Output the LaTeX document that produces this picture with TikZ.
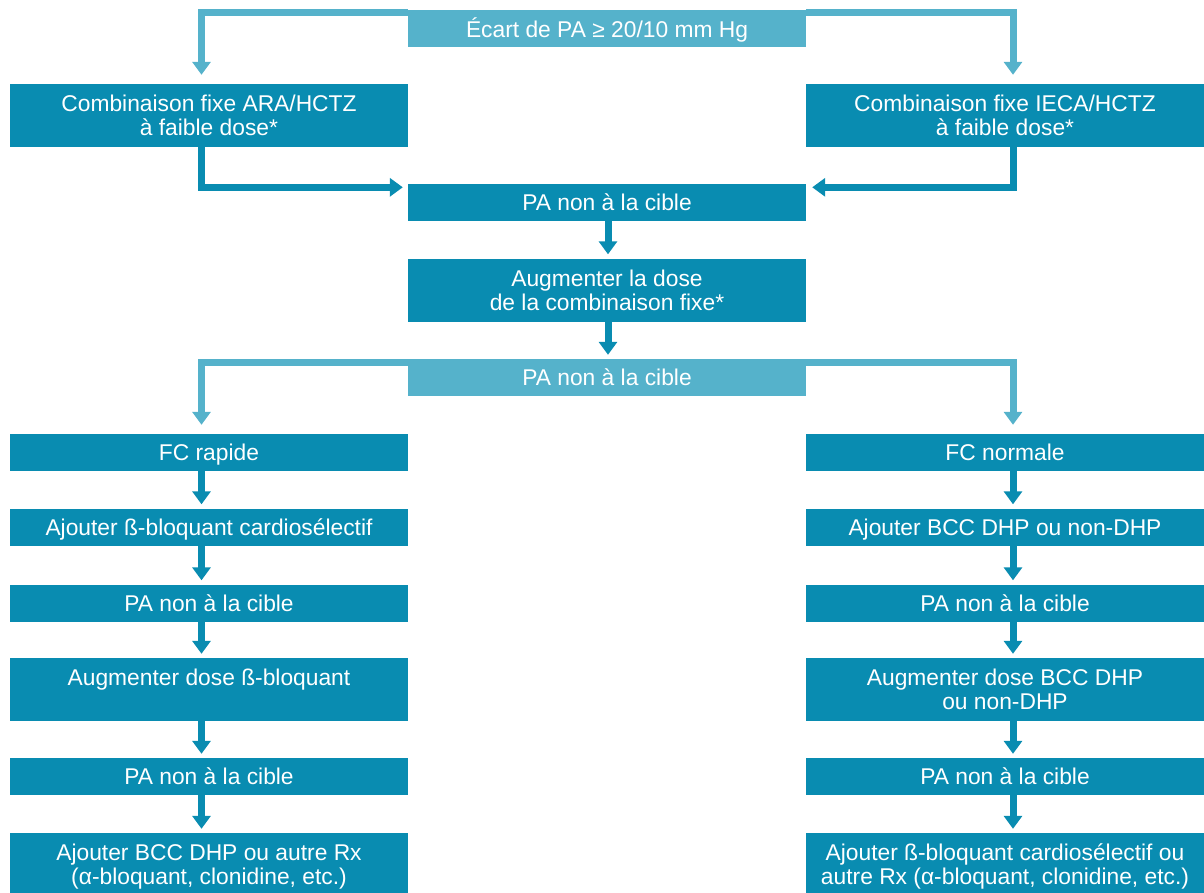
\documentclass[tikz,border=0pt]{standalone}
\usepackage{fontspec}
\setmainfont{Liberation Sans}
\usetikzlibrary{arrows.meta}
\definecolor{tealdark}{RGB}{9,140,177}
\definecolor{teallight}{RGB}{85,178,203}
\tikzset{
  box/.style={fill=tealdark, text=white, minimum width=398pt, minimum height=37pt,
    inner sep=0pt, align=center, text depth=0pt, font=\fontsize{22.8}{24}\selectfont},
  tallbox/.style={box, minimum height=63pt},
  lbox/.style={box, fill=teallight},
  arr/.style={draw=tealdark, line width=7pt, -{Triangle[width=18pt,length=13pt]}, shorten >=4pt},
  larr/.style={arr, draw=teallight, shorten >=9pt},
}
\begin{document}
\begin{tikzpicture}[x=1pt,y=-1pt]
\useasboundingbox (0,0) rectangle (1204,892);
\coordinate (lx) at (201.5,0);
\coordinate (mx) at (608,0);
\coordinate (rx) at (1013,0);
% top part
\node[lbox] (ecart) at (607,28) {Écart de PA ≥ 20/10 mm Hg};
\node[tallbox] (ara) at (209,115.5) {Combinaison fixe ARA/HCTZ\\à faible dose*};
\node[tallbox] (ieca) at (1005,115.5) {Combinaison fixe IECA/HCTZ\\à faible dose*};
\node[box] (pa1) at (607,202.5) {PA non à la cible};
\node[tallbox] (aug) at (607,290) {Augmenter la dose\\de la combinaison fixe*};
\node[lbox] (pa2) at (607,377.5) {PA non à la cible};
% left column
\node[box] (fcr) at (209,452.5) {FC rapide};
\node[box] (lbeta) at (209,527) {Ajouter ß-bloquant cardiosélectif};
\node[box] (lpa1) at (209,603) {PA non à la cible};
\node[tallbox] (laug) at (209,689.5) {Augmenter dose ß-bloquant\\\mbox{}};
\node[box] (lpa2) at (209,776.5) {PA non à la cible};
\node[tallbox] (lend) at (209,864.5) {Ajouter BCC DHP ou autre Rx\\(α-bloquant, clonidine, etc.)};
% right column
\node[box] (fcn) at (1005,452.5) {FC normale};
\node[box] (rbcc) at (1005,527) {Ajouter BCC DHP ou non-DHP};
\node[box] (rpa1) at (1005,603) {PA non à la cible};
\node[tallbox] (raug) at (1005,689.5) {Augmenter dose BCC DHP\\ou non-DHP};
\node[box] (rpa2) at (1005,776.5) {PA non à la cible};
\node[tallbox] (rend) at (1005,864.5) {Ajouter ß-bloquant cardiosélectif ou\\autre Rx (α-bloquant, clonidine, etc.)};
% connectors
\draw[larr] ([yshift=-3pt]ecart.north west) -| (ara.north -| lx);
\draw[larr] ([yshift=-3pt]ecart.north east) -| (ieca.north -| rx);
\draw[arr, shorten >=5pt] (ara.south -| lx) |- ([yshift=-3.5pt]pa1.north west);
\draw[arr, shorten >=6pt] (ieca.south -| rx) |- ([yshift=-3.5pt]pa1.north east);
\draw[arr] (pa1.south -| mx) -- (aug.north -| mx);
\draw[arr] (aug.south -| mx) -- (pa2.north -| mx);
\draw[larr] ([yshift=-4pt]pa2.north west) -| (fcr.north -| lx);
\draw[larr] ([yshift=-4pt]pa2.north east) -| (fcn.north -| rx);
\draw[arr] (fcr.south -| lx) -- (lbeta.north -| lx);
\draw[arr] (lbeta.south -| lx) -- (lpa1.north -| lx);
\draw[arr] (lpa1.south -| lx) -- (laug.north -| lx);
\draw[arr] (laug.south -| lx) -- (lpa2.north -| lx);
\draw[arr] (lpa2.south -| lx) -- (lend.north -| lx);
\draw[arr] (fcn.south -| rx) -- (rbcc.north -| rx);
\draw[arr] (rbcc.south -| rx) -- (rpa1.north -| rx);
\draw[arr] (rpa1.south -| rx) -- (raug.north -| rx);
\draw[arr] (raug.south -| rx) -- (rpa2.north -| rx);
\draw[arr] (rpa2.south -| rx) -- (rend.north -| rx);
\end{tikzpicture}
\end{document}
